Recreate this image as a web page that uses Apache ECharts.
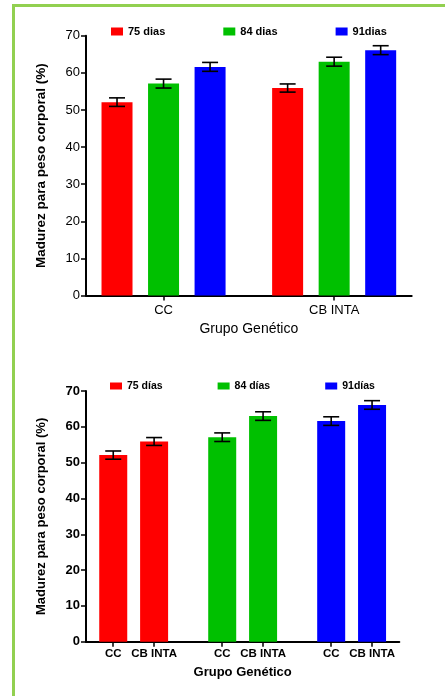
<!DOCTYPE html>
<html>
<head>
<meta charset="utf-8">
<script src="https://cdn.jsdelivr.net/npm/echarts@6/dist/echarts.min.js"></script>
<style>
  html, body { margin: 0; padding: 0; background: #fff; }
  #frame { position: absolute; left: 12px; top: 4px; width: 440px; height: 700px;
           border-top: 3px solid #92d050; border-left: 3px solid #92d050; box-sizing: border-box; }
  #chart { position: absolute; left: 0; top: 0; width: 445px; height: 696px; }
</style>
</head>
<body>
<div id="frame"></div>
<div id="chart"></div>
<script>
// ---- data ----
const groups = ['CC', 'CB INTA'];
const legendTop = ['75 dias', '84 dias', '91dias'];
const legendBottom = ['75 días', '84 días', '91días'];
const values75 = [52.1, 55.9];
const values84 = [57.1, 63.0];
const values91 = [61.6, 66.1];
const err75 = [1.15, 1.1];
const err84 = [1.2, 1.2];
const err91 = [1.2, 1.2];
const yMin = 0, yMax = 70, yStep = 10;
const colors = ['#ff0000', '#00c000', '#0000ff'];

// ---- layout (slot positions on a fine category axis) ----
const FONT = '"Liberation Sans", Arial, sans-serif';
const top1Slots = 22;
const top1Pos = [[2, 13], [5, 16], [8, 19]];
const top1LabelPos = [5, 16];
const bot2Slots = 24;
const bot2Pos = [[2, 5], [10, 13], [18, 21]];

function slotCats(n, labels) {
  const arr = new Array(n).fill('');
  labels.forEach(([i, t]) => { arr[i] = t; });
  return arr;
}
const cats1 = slotCats(top1Slots, top1LabelPos.map((p, i) => [p, groups[i]]));
const cats2 = slotCats(bot2Slots, bot2Pos.flat().map((p, i) => [p, groups[i % 2]]));
const show1 = new Set(top1LabelPos);
const show2 = new Set(bot2Pos.flat());

const allVals = [values75, values84, values91];
const allErr = [err75, err84, err91];

function errSeries(xi, pos, vals, errs, capW) {
  return {
    type: 'custom', xAxisIndex: xi, yAxisIndex: xi, z: 5, silent: true,
    data: pos.map((p, i) => [p, vals[i] - errs[i], vals[i] + errs[i]]),
    renderItem(params, api) {
      const x = api.value(0);
      const lo = api.coord([x, api.value(1)]);
      const hi = api.coord([x, api.value(2)]);
      const w = capW / 2;
      const st = { stroke: '#000', lineWidth: 1.6 };
      return { type: 'group', children: [
        { type: 'line', shape: { x1: lo[0], y1: lo[1], x2: hi[0], y2: hi[1] }, style: st },
        { type: 'line', shape: { x1: lo[0] - w, y1: lo[1], x2: lo[0] + w, y2: lo[1] }, style: st },
        { type: 'line', shape: { x1: hi[0] - w, y1: hi[1], x2: hi[0] + w, y2: hi[1] }, style: st }
      ]};
    }
  };
}

const series = [];
for (let s = 0; s < 3; s++) {
  series.push({
    type: 'bar', name: legendTop[s], xAxisIndex: 0, yAxisIndex: 0,
    barWidth: 31, barGap: '-100%', itemStyle: { color: colors[s] },
    data: top1Pos[s].map((p, i) => [p, allVals[s][i]])
  });
  series.push(errSeries(0, top1Pos[s], allVals[s], allErr[s], 16));
}
for (let s = 0; s < 3; s++) {
  series.push({
    type: 'bar', name: legendBottom[s], xAxisIndex: 1, yAxisIndex: 1,
    barWidth: 28, barGap: '-100%', itemStyle: { color: colors[s] },
    data: bot2Pos[s].map((p, i) => [p, allVals[s][i]])
  });
  series.push(errSeries(1, bot2Pos[s], allVals[s], allErr[s], 16));
}

const axisLine = { show: true, lineStyle: { color: '#000', width: 2 } };
const tick = { show: true, length: 5, lineStyle: { color: '#000', width: 1.5 } };

const option = {
  animation: false,
  textStyle: { fontFamily: FONT },
  legend: [
    { data: legendTop, left: 111, top: 26, padding: 0, itemWidth: 12, itemHeight: 8, itemGap: 58,
      icon: 'rect', selectedMode: false,
      textStyle: { fontFamily: FONT, fontSize: 11, fontWeight: 'bold', color: '#000' } },
    { data: legendBottom, left: 110, top: 380.5, padding: 0, itemWidth: 12, itemHeight: 7, itemGap: 55,
      icon: 'rect', selectedMode: false,
      textStyle: { fontFamily: FONT, fontSize: 10.5, fontWeight: 'bold', color: '#000' } }
  ],
  grid: [
    { left: 86, top: 35.7, width: 325.7, height: 259.8 },
    { left: 86, top: 391, width: 313.3, height: 250.7 }
  ],
  xAxis: [
    { type: 'category', gridIndex: 0, data: cats1, boundaryGap: false,
      axisLine, axisTick: { ...tick, interval: (i) => show1.has(i) },
      axisLabel: { interval: (i) => show1.has(i), margin: 8, fontFamily: FONT, fontSize: 13, color: '#000' },
      splitLine: { show: false },
      name: 'Grupo Genético', nameLocation: 'middle', nameGap: 27,
      nameTextStyle: { fontFamily: FONT, fontSize: 14, color: '#000' } },
    { type: 'category', gridIndex: 1, data: cats2, boundaryGap: false,
      axisLine, axisTick: { ...tick, interval: (i) => show2.has(i) },
      axisLabel: { interval: (i) => show2.has(i), margin: 6, fontFamily: FONT, fontSize: 11.5, fontWeight: 'bold', color: '#000' },
      splitLine: { show: false },
      name: 'Grupo Genético', nameLocation: 'middle', nameGap: 24,
      nameTextStyle: { fontFamily: FONT, fontSize: 13, fontWeight: 'bold', color: '#000' } }
  ],
  yAxis: [
    { type: 'value', gridIndex: 0, min: yMin, max: yMax, interval: yStep,
      axisLine, axisTick: tick, splitLine: { show: false },
      axisLabel: { margin: 6, fontFamily: FONT, fontSize: 13, color: '#000' },
      name: 'Madurez para peso corporal (%)', nameLocation: 'middle', nameGap: 38,
      nameTextStyle: { fontFamily: FONT, fontSize: 13.5, fontWeight: 'bold', color: '#000' } },
    { type: 'value', gridIndex: 1, min: yMin, max: yMax, interval: yStep,
      axisLine, axisTick: tick, splitLine: { show: false },
      axisLabel: { margin: 6, fontFamily: FONT, fontSize: 13, fontWeight: 'bold', color: '#000' },
      name: 'Madurez para peso corporal (%)', nameLocation: 'middle', nameGap: 38,
      nameTextStyle: { fontFamily: FONT, fontSize: 13, fontWeight: 'bold', color: '#000' } }
  ],
  series
};

const chart = echarts.init(document.getElementById('chart'), null, { renderer: 'canvas' });
chart.setOption(option);
</script>
</body>
</html>
